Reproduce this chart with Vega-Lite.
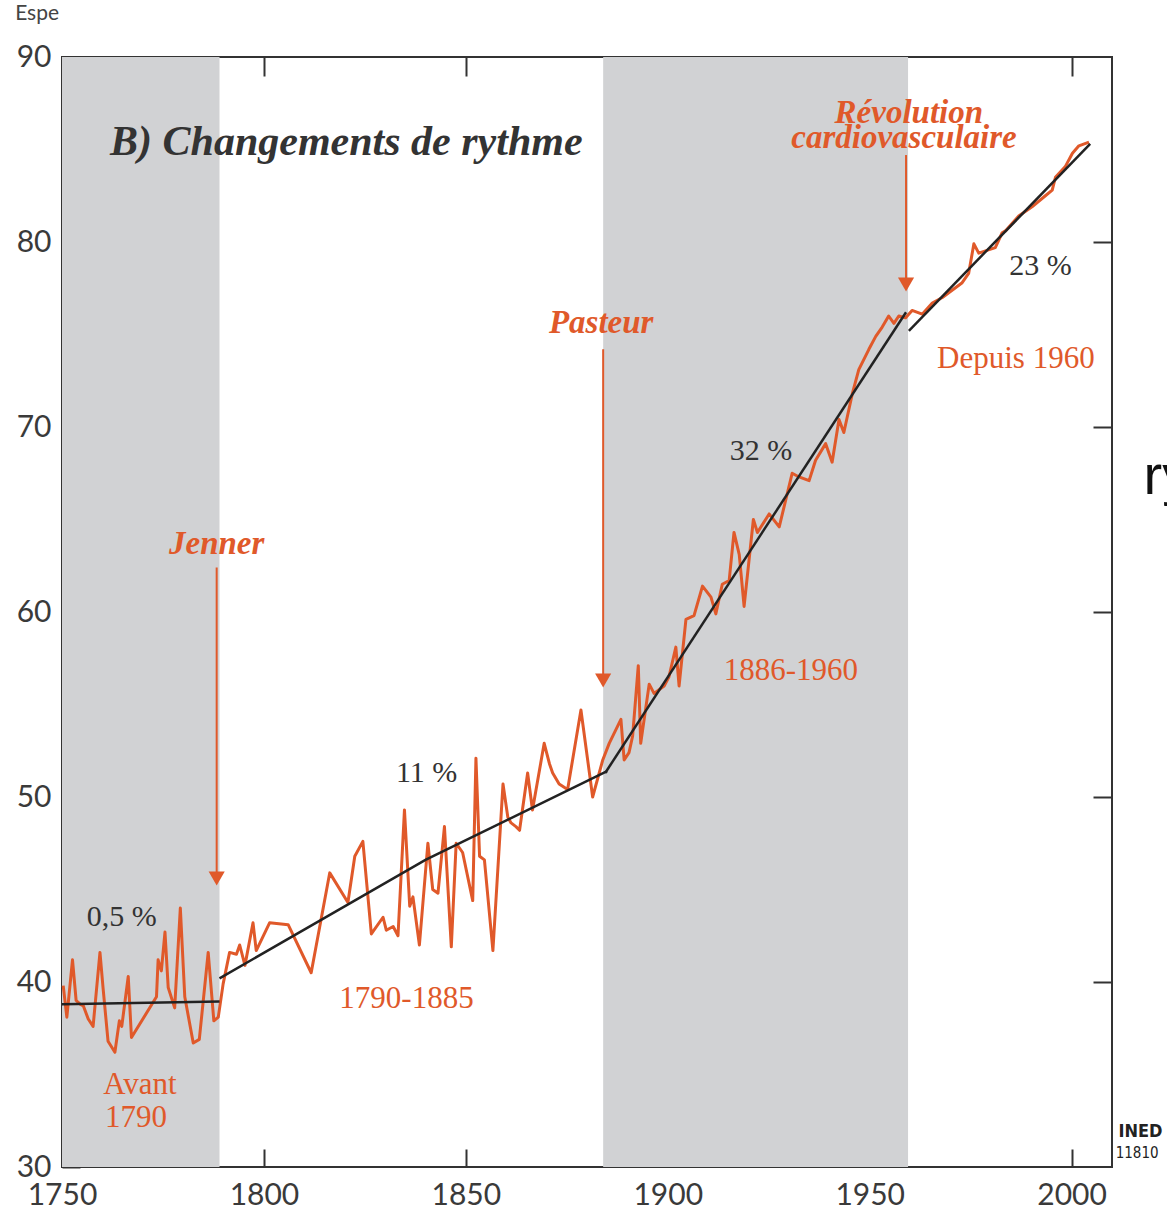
{
  "$schema": "https://vega.github.io/schema/vega-lite/v6.json",
  "width": 1050,
  "height": 1110,
  "autosize": {"type": "none"},
  "padding": {"left": 62, "top": 57, "right": 55, "bottom": 45},
  "background": "white",
  "config": {
    "view": {"stroke": "#333", "strokeWidth": 2},
    "axis": {"grid": false, "domain": false, "title": null}
  },
  "datasets": {
    "bands": [
      {"start": 1750, "end": 1789},
      {"start": 1884, "end": 1959.5}
    ],
    "series": [
      {"year": 1750.3, "value": 39.8}, {"year": 1751.2, "value": 38.1}, {"year": 1752.6, "value": 41.2},
      {"year": 1753.5, "value": 39.0}, {"year": 1754.5, "value": 38.8}, {"year": 1755.3, "value": 38.7},
      {"year": 1756.5, "value": 38.0}, {"year": 1757.7, "value": 37.6}, {"year": 1759.4, "value": 41.6},
      {"year": 1760.2, "value": 39.6}, {"year": 1761.4, "value": 36.8}, {"year": 1763.1, "value": 36.2},
      {"year": 1764.2, "value": 37.9}, {"year": 1764.8, "value": 37.6}, {"year": 1766.4, "value": 40.3},
      {"year": 1767.2, "value": 37.0}, {"year": 1773.4, "value": 39.2}, {"year": 1773.8, "value": 41.2},
      {"year": 1774.6, "value": 40.6}, {"year": 1775.5, "value": 42.7}, {"year": 1776.3, "value": 39.7},
      {"year": 1777.9, "value": 38.6}, {"year": 1779.3, "value": 44.0}, {"year": 1780.4, "value": 39.2},
      {"year": 1782.5, "value": 36.7}, {"year": 1784.0, "value": 36.9}, {"year": 1786.2, "value": 41.6},
      {"year": 1787.6, "value": 37.9}, {"year": 1788.7, "value": 38.1}, {"year": 1789.9, "value": 39.9},
      {"year": 1791.5, "value": 41.6}, {"year": 1793.2, "value": 41.5}, {"year": 1794.0, "value": 42.0},
      {"year": 1795.3, "value": 40.9}, {"year": 1797.3, "value": 43.2}, {"year": 1798.1, "value": 41.7},
      {"year": 1801.4, "value": 43.2}, {"year": 1806.0, "value": 43.1}, {"year": 1811.7, "value": 40.5},
      {"year": 1816.3, "value": 45.9}, {"year": 1820.8, "value": 44.3}, {"year": 1822.5, "value": 46.8},
      {"year": 1824.5, "value": 47.6}, {"year": 1826.6, "value": 42.6}, {"year": 1829.5, "value": 43.5},
      {"year": 1830.3, "value": 42.8}, {"year": 1832.0, "value": 43.0}, {"year": 1833.2, "value": 42.5},
      {"year": 1834.8, "value": 49.3}, {"year": 1836.1, "value": 44.1}, {"year": 1836.9, "value": 44.6},
      {"year": 1838.5, "value": 42.0}, {"year": 1840.6, "value": 47.5}, {"year": 1841.8, "value": 45.0},
      {"year": 1843.1, "value": 44.8}, {"year": 1844.7, "value": 48.4}, {"year": 1846.4, "value": 41.9},
      {"year": 1847.6, "value": 47.5}, {"year": 1849.2, "value": 47.0}, {"year": 1851.7, "value": 44.4},
      {"year": 1852.5, "value": 52.1}, {"year": 1853.4, "value": 46.8}, {"year": 1854.6, "value": 46.6},
      {"year": 1856.7, "value": 41.7}, {"year": 1859.2, "value": 50.7}, {"year": 1860.4, "value": 48.9},
      {"year": 1861.2, "value": 48.6}, {"year": 1862.4, "value": 48.4}, {"year": 1863.3, "value": 48.2},
      {"year": 1865.3, "value": 51.3}, {"year": 1866.5, "value": 49.3}, {"year": 1869.4, "value": 52.9},
      {"year": 1870.7, "value": 51.8}, {"year": 1871.5, "value": 51.3}, {"year": 1873.1, "value": 50.7},
      {"year": 1875.2, "value": 50.4}, {"year": 1878.5, "value": 54.7}, {"year": 1881.4, "value": 50.0},
      {"year": 1883.9, "value": 52.0}, {"year": 1885.5, "value": 52.9}, {"year": 1888.4, "value": 54.2},
      {"year": 1889.2, "value": 52.0}, {"year": 1890.4, "value": 52.4}, {"year": 1891.3, "value": 53.3},
      {"year": 1892.7, "value": 57.1}, {"year": 1893.3, "value": 52.9}, {"year": 1895.4, "value": 56.1},
      {"year": 1896.6, "value": 55.6}, {"year": 1899.1, "value": 56.0}, {"year": 1900.3, "value": 56.5},
      {"year": 1902.0, "value": 58.1}, {"year": 1902.8, "value": 56.0}, {"year": 1904.5, "value": 59.6},
      {"year": 1906.5, "value": 59.8}, {"year": 1908.6, "value": 61.4}, {"year": 1910.7, "value": 60.8},
      {"year": 1911.9, "value": 59.9}, {"year": 1913.5, "value": 61.5}, {"year": 1915.2, "value": 61.7},
      {"year": 1916.4, "value": 64.3}, {"year": 1917.7, "value": 63.1}, {"year": 1918.9, "value": 60.3},
      {"year": 1921.2, "value": 65.0}, {"year": 1922.2, "value": 64.3}, {"year": 1925.1, "value": 65.3},
      {"year": 1927.6, "value": 64.6}, {"year": 1930.8, "value": 67.5}, {"year": 1932.5, "value": 67.3},
      {"year": 1935.0, "value": 67.1}, {"year": 1936.6, "value": 68.2}, {"year": 1939.1, "value": 69.1},
      {"year": 1940.7, "value": 68.1}, {"year": 1942.4, "value": 70.4}, {"year": 1943.6, "value": 69.7},
      {"year": 1945.7, "value": 71.8}, {"year": 1947.3, "value": 73.1}, {"year": 1949.8, "value": 74.2},
      {"year": 1951.5, "value": 74.9}, {"year": 1953.1, "value": 75.4}, {"year": 1954.7, "value": 76.0},
      {"year": 1956.0, "value": 75.6}, {"year": 1957.2, "value": 76.0}, {"year": 1958.9, "value": 75.9},
      {"year": 1960.5, "value": 76.3}, {"year": 1963.0, "value": 76.1}, {"year": 1965.5, "value": 76.7},
      {"year": 1968.0, "value": 77.0}, {"year": 1972.9, "value": 77.8}, {"year": 1974.5, "value": 78.3},
      {"year": 1975.8, "value": 79.9}, {"year": 1977.0, "value": 79.4}, {"year": 1981.1, "value": 79.7},
      {"year": 1982.8, "value": 80.5}, {"year": 1983.6, "value": 80.6}, {"year": 1986.9, "value": 81.4},
      {"year": 1990.2, "value": 81.9}, {"year": 1993.5, "value": 82.5}, {"year": 1995.2, "value": 82.8},
      {"year": 1996.0, "value": 83.5}, {"year": 1998.5, "value": 84.1}, {"year": 2000.2, "value": 84.8},
      {"year": 2001.8, "value": 85.2}, {"year": 2004.3, "value": 85.4}
    ],
    "fits": [
      {"seg": "avant 1790", "year": 1750, "value": 38.8},
      {"seg": "avant 1790", "year": 1789, "value": 38.95},
      {"seg": "1790-1885", "year": 1789, "value": 40.2},
      {"seg": "1790-1885", "year": 1840, "value": 46.6},
      {"seg": "1790-1885", "year": 1885, "value": 51.4},
      {"seg": "1886-1960", "year": 1884.5, "value": 51.3},
      {"seg": "1886-1960", "year": 1959, "value": 76.2},
      {"seg": "depuis 1960", "year": 1959.7, "value": 75.2},
      {"seg": "depuis 1960", "year": 2004.6, "value": 85.3}
    ],
    "arrows": [
      {"event": "Jenner", "year": 1788.3, "top": 62.4, "bottom": 45.8, "tip": 45.6},
      {"event": "Pasteur", "year": 1884.0, "top": 74.2, "bottom": 56.6, "tip": 56.3},
      {"event": "Révolution cardiovasculaire", "year": 1959.0, "top": 84.7, "bottom": 78.0, "tip": 77.7}
    ],
    "events": [
      {"label": "Jenner", "year": 1788.3, "value": 63.7},
      {"label": "Pasteur", "year": 1883.5, "value": 75.6},
      {"label": "Révolution", "year": 1959.7, "value": 87.0},
      {"label": "cardiovasculaire", "year": 1958.5, "value": 85.6}
    ],
    "periods": [
      {"label": "Avant", "year": 1769.3, "value": 34.45},
      {"label": "1790", "year": 1768.3, "value": 32.65},
      {"label": "1790-1885", "year": 1835.3, "value": 39.1},
      {"label": "1886-1960", "year": 1930.5, "value": 56.8},
      {"label": "Depuis 1960", "year": 1986.2, "value": 73.7}
    ],
    "rates": [
      {"label": "0,5 %", "year": 1764.8, "value": 43.5},
      {"label": "11 %", "year": 1840.3, "value": 51.3},
      {"label": "32 %", "year": 1923.1, "value": 68.7},
      {"label": "23 %", "year": 1992.3, "value": 78.7}
    ],
    "title": [
      {"label": "B) Changements de rythme", "year": 1761.9, "value": 85.4}
    ],
    "source": [
      {"label": "INED", "year": 2011.6, "value": 31.9, "kind": "big"},
      {"label": "11810", "year": 2010.9, "value": 30.76, "kind": "small"}
    ],
    "fragments": [
      {"label": "Espe", "year": 1738.4, "value": 92.0},
      {"label": "ry", "year": 2017.8, "value": 67.3}
    ]
  },
  "resolve": {"axis": {"x": "independent", "y": "independent"}},
  "layer": [
    {
      "data": {"name": "bands"},
      "mark": {"type": "rect", "color": "#d1d2d4"},
      "encoding": {
        "x": {"field": "start", "type": "quantitative", "scale": {"domain": [1750, 2010], "nice": false, "zero": false}, "axis": null},
        "x2": {"field": "end"}
      }
    },
    {
      "data": {"name": "series"},
      "mark": {"type": "line", "color": "#e0592a", "strokeWidth": 3, "strokeJoin": "round"},
      "encoding": {
        "x": {"field": "year", "type": "quantitative", "scale": {"domain": [1750, 2010], "nice": false, "zero": false},
          "axis": {"orient": "bottom", "values": [1750, 1800, 1850, 1900, 1950, 2000], "format": "d", "labelFont": "Lato", "labelFontSize": 30, "labelColor": "#3a3a3a", "tickSize": -18, "tickWidth": 2, "tickColor": "#333", "labelPadding": 31, "labelFlush": false}},
        "y": {"field": "value", "type": "quantitative", "scale": {"domain": [30, 90], "nice": false, "zero": false},
          "axis": {"orient": "left", "values": [30, 40, 50, 60, 70, 80, 90], "labelFont": "Lato", "labelFontSize": 30, "labelColor": "#3a3a3a", "tickSize": -18, "tickWidth": 2, "tickColor": "#333", "labelPadding": 29, "labelFlush": false}}
      }
    },
    {
      "data": {"name": "fits"},
      "mark": {"type": "line", "color": "#222", "strokeWidth": 2.5},
      "encoding": {
        "x": {"field": "year", "type": "quantitative", "scale": {"domain": [1750, 2010], "nice": false, "zero": false},
          "axis": {"orient": "top", "values": [1800, 1850, 1900, 1950, 2000], "labels": false, "tickSize": -19, "tickWidth": 2, "tickColor": "#333"}},
        "y": {"field": "value", "type": "quantitative", "scale": {"domain": [30, 90], "nice": false, "zero": false},
          "axis": {"orient": "right", "values": [40, 50, 60, 70, 80], "labels": false, "tickSize": -19, "tickWidth": 2, "tickColor": "#333"}},
        "detail": {"field": "seg"}
      }
    },
    {
      "data": {"name": "arrows"},
      "mark": {"type": "rule", "color": "#e0592a", "strokeWidth": 2},
      "encoding": {
        "x": {"field": "year", "type": "quantitative", "axis": null},
        "y": {"field": "top", "type": "quantitative", "axis": null},
        "y2": {"field": "bottom"}
      }
    },
    {
      "data": {"name": "arrows"},
      "mark": {"type": "point", "shape": "triangle-down", "filled": true, "color": "#e0592a", "size": 260, "opacity": 1},
      "encoding": {
        "x": {"field": "year", "type": "quantitative", "axis": null},
        "y": {"field": "tip", "type": "quantitative", "axis": null}
      }
    },
    {
      "data": {"name": "title"},
      "mark": {"type": "text", "font": "Liberation Serif", "fontStyle": "italic", "fontWeight": "bold", "fontSize": 42, "color": "#333", "align": "left", "baseline": "middle"},
      "encoding": {
        "x": {"field": "year", "type": "quantitative", "axis": null},
        "y": {"field": "value", "type": "quantitative", "axis": null},
        "text": {"field": "label"}
      }
    },
    {
      "data": {"name": "events"},
      "mark": {"type": "text", "font": "Liberation Serif", "fontStyle": "italic", "fontWeight": "bold", "fontSize": 33, "color": "#e0592a", "align": "center", "baseline": "middle"},
      "encoding": {
        "x": {"field": "year", "type": "quantitative", "axis": null},
        "y": {"field": "value", "type": "quantitative", "axis": null},
        "text": {"field": "label"}
      }
    },
    {
      "data": {"name": "periods"},
      "mark": {"type": "text", "font": "Liberation Serif", "fontSize": 31, "color": "#e0592a", "align": "center", "baseline": "middle"},
      "encoding": {
        "x": {"field": "year", "type": "quantitative", "axis": null},
        "y": {"field": "value", "type": "quantitative", "axis": null},
        "text": {"field": "label"}
      }
    },
    {
      "data": {"name": "rates"},
      "mark": {"type": "text", "font": "Liberation Serif", "fontSize": 30, "color": "#333", "align": "center", "baseline": "middle"},
      "encoding": {
        "x": {"field": "year", "type": "quantitative", "axis": null},
        "y": {"field": "value", "type": "quantitative", "axis": null},
        "text": {"field": "label"}
      }
    },
    {
      "data": {"name": "source"},
      "transform": [{"filter": "datum.kind === 'big'"}],
      "mark": {"type": "text", "font": "DejaVu Sans Condensed, Liberation Sans Narrow, sans-serif", "fontWeight": "bold", "fontSize": 18, "color": "#222", "align": "left", "baseline": "middle"},
      "encoding": {
        "x": {"field": "year", "type": "quantitative", "axis": null},
        "y": {"field": "value", "type": "quantitative", "axis": null},
        "text": {"field": "label"}
      }
    },
    {
      "data": {"name": "source"},
      "transform": [{"filter": "datum.kind === 'small'"}],
      "mark": {"type": "text", "font": "DejaVu Sans Condensed, Liberation Sans Narrow, sans-serif", "fontSize": 15, "color": "#222", "align": "left", "baseline": "middle"},
      "encoding": {
        "x": {"field": "year", "type": "quantitative", "axis": null},
        "y": {"field": "value", "type": "quantitative", "axis": null},
        "text": {"field": "label"}
      }
    },
    {
      "data": {"name": "fragments"},
      "transform": [{"filter": "datum.label === 'Espe'"}],
      "mark": {"type": "text", "font": "Lato", "fontSize": 21, "color": "#444", "align": "left", "baseline": "alphabetic"},
      "encoding": {
        "x": {"field": "year", "type": "quantitative", "axis": null},
        "y": {"field": "value", "type": "quantitative", "axis": null},
        "text": {"field": "label"}
      }
    },
    {
      "data": {"name": "fragments"},
      "transform": [{"filter": "datum.label === 'ry'"}],
      "mark": {"type": "text", "font": "Liberation Sans", "fontSize": 56, "color": "#111", "align": "left", "baseline": "middle"},
      "encoding": {
        "x": {"field": "year", "type": "quantitative", "axis": null},
        "y": {"field": "value", "type": "quantitative", "axis": null},
        "text": {"field": "label"}
      }
    }
  ]
}
